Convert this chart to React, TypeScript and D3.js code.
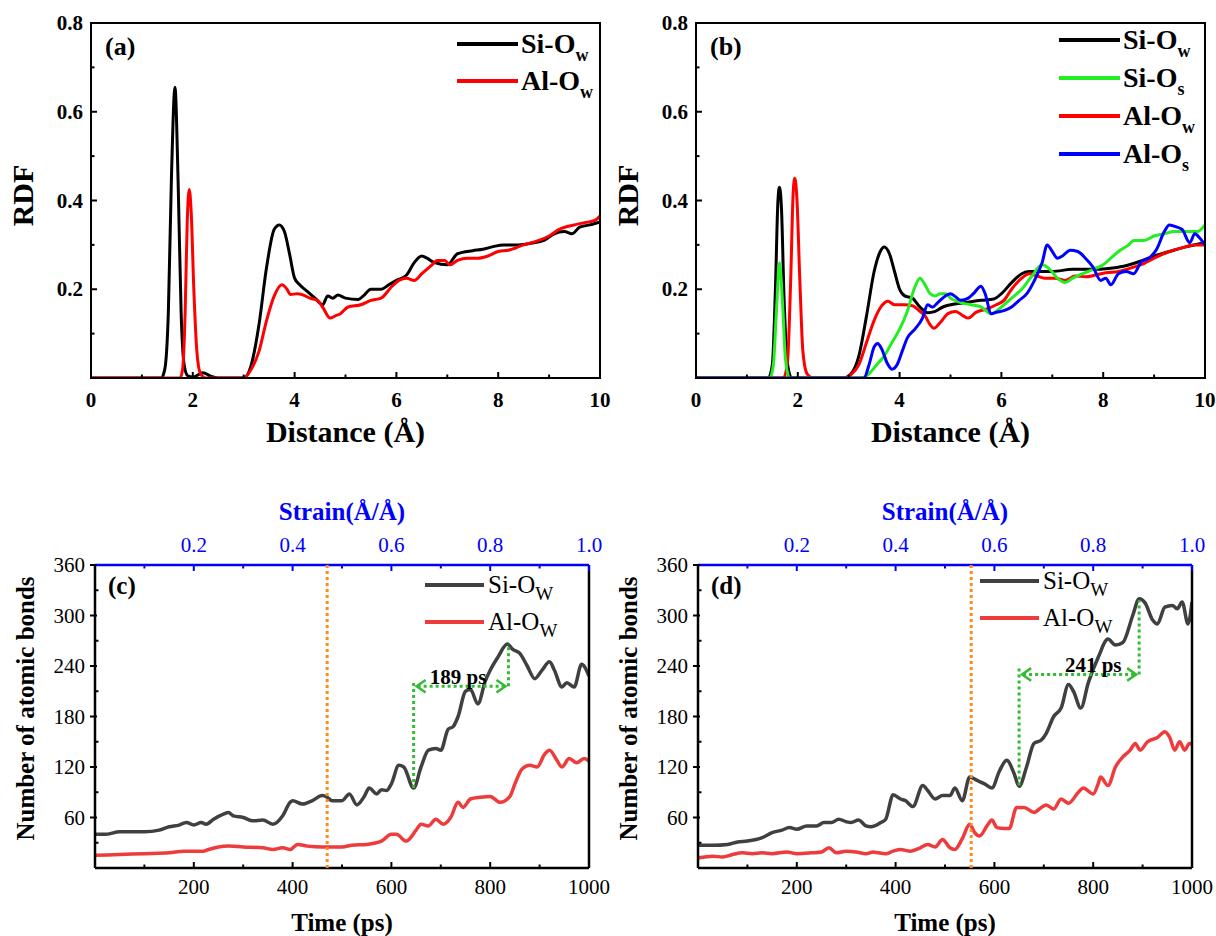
import React from 'react';
import * as d3 from 'd3';

const FONT = '"Liberation Serif", "Times New Roman", Times, "DejaVu Serif", serif';

type P = [number, number];

// ---------- Panel (a) RDF ----------
const aSiOw: P[] = [[0,0],[1.38,0],[1.45,0.02],[1.52,0.15],[1.58,0.45],[1.65,0.655],[1.71,0.45],[1.77,0.15],[1.83,0.03],[1.9,0.005],[2.0,0.002],[2.2,0.012],[2.35,0.004],[2.5,0],[3.0,0],[3.15,0.03],[3.3,0.12],[3.45,0.25],[3.6,0.335],[3.7,0.345],[3.8,0.33],[3.9,0.28],[4.0,0.225],[4.1,0.21],[4.25,0.195],[4.4,0.18],[4.55,0.165],[4.65,0.185],[4.75,0.18],[4.85,0.187],[5.0,0.18],[5.25,0.177],[5.35,0.185],[5.5,0.2],[5.7,0.2],[5.85,0.21],[6.0,0.22],[6.2,0.232],[6.35,0.26],[6.5,0.275],[6.6,0.27],[6.75,0.26],[7.0,0.255],[7.2,0.28],[7.5,0.287],[7.7,0.29],[7.9,0.296],[8.1,0.3],[8.4,0.3],[8.7,0.305],[8.9,0.31],[9.1,0.325],[9.3,0.33],[9.45,0.325],[9.6,0.34],[9.8,0.345],[10,0.352]];
const aAlOw: P[] = [[0,0],[1.75,0],[1.8,0.02],[1.85,0.15],[1.89,0.35],[1.93,0.425],[1.97,0.37],[2.02,0.2],[2.08,0.06],[2.15,0.01],[2.25,0],[3.0,0],[3.15,0.02],[3.3,0.06],[3.45,0.13],[3.6,0.185],[3.75,0.21],[3.85,0.2],[3.92,0.188],[4.05,0.19],[4.15,0.188],[4.3,0.18],[4.45,0.175],[4.55,0.16],[4.7,0.135],[4.8,0.14],[4.9,0.145],[5.05,0.16],[5.3,0.165],[5.5,0.175],[5.7,0.18],[5.9,0.205],[6.05,0.22],[6.2,0.225],[6.35,0.22],[6.5,0.235],[6.7,0.255],[6.8,0.265],[6.95,0.265],[7.05,0.255],[7.2,0.265],[7.4,0.27],[7.6,0.27],[7.8,0.275],[8.0,0.285],[8.2,0.288],[8.5,0.3],[8.8,0.31],[9.0,0.32],[9.2,0.335],[9.5,0.345],[9.7,0.35],[9.9,0.355],[10,0.365]];

// ---------- Panel (b) RDF ----------
const bSiOw: P[] = [[0,0],[1.42,0],[1.5,0.03],[1.56,0.2],[1.61,0.4],[1.64,0.43],[1.68,0.38],[1.73,0.18],[1.8,0.03],[1.88,0],[2.9,0],[3.05,0.01],[3.2,0.05],[3.35,0.14],[3.5,0.24],[3.62,0.285],[3.7,0.295],[3.8,0.28],[3.9,0.24],[4.0,0.2],[4.1,0.185],[4.25,0.18],[4.4,0.16],[4.55,0.147],[4.7,0.15],[4.85,0.16],[5.0,0.165],[5.3,0.17],[5.6,0.175],[5.85,0.178],[6.0,0.19],[6.2,0.215],[6.4,0.235],[6.55,0.24],[7.0,0.24],[7.4,0.245],[7.8,0.245],[8.1,0.247],[8.4,0.252],[8.7,0.262],[9.0,0.275],[9.3,0.285],[9.6,0.295],[10,0.305]];
const bSiOs: P[] = [[0,0],[1.45,0],[1.52,0.03],[1.58,0.15],[1.64,0.26],[1.7,0.17],[1.76,0.04],[1.84,0],[3.25,0],[3.4,0.01],[3.55,0.03],[3.7,0.05],[3.85,0.08],[4.0,0.11],[4.15,0.15],[4.3,0.205],[4.4,0.225],[4.5,0.21],[4.6,0.19],[4.7,0.185],[4.8,0.19],[4.9,0.19],[5.0,0.18],[5.2,0.17],[5.4,0.165],[5.6,0.16],[5.8,0.145],[6.0,0.16],[6.2,0.18],[6.4,0.2],[6.6,0.23],[6.8,0.255],[6.95,0.245],[7.1,0.225],[7.25,0.215],[7.4,0.225],[7.6,0.235],[7.8,0.245],[8.0,0.255],[8.15,0.27],[8.3,0.285],[8.5,0.3],[8.6,0.31],[8.8,0.31],[9.0,0.32],[9.2,0.325],[9.4,0.33],[9.7,0.33],[9.85,0.33],[10,0.345]];
const bAlOw: P[] = [[0,0],[1.72,0],[1.8,0.04],[1.86,0.22],[1.91,0.42],[1.94,0.45],[1.98,0.41],[2.04,0.22],[2.1,0.06],[2.18,0.01],[2.3,0],[2.9,0],[3.05,0.008],[3.2,0.03],[3.35,0.08],[3.5,0.13],[3.65,0.163],[3.77,0.173],[3.9,0.165],[4.1,0.165],[4.25,0.163],[4.4,0.15],[4.5,0.14],[4.6,0.12],[4.67,0.112],[4.8,0.125],[4.95,0.145],[5.1,0.15],[5.25,0.14],[5.35,0.135],[5.5,0.148],[5.7,0.155],[5.9,0.165],[6.05,0.175],[6.2,0.2],[6.4,0.225],[6.55,0.235],[6.7,0.23],[6.85,0.225],[7.05,0.225],[7.25,0.22],[7.45,0.23],[7.65,0.228],[7.85,0.232],[8.05,0.237],[8.3,0.24],[8.6,0.25],[8.8,0.258],[9.0,0.27],[9.3,0.285],[9.6,0.295],[9.8,0.3],[10,0.3]];
const bAlOs: P[] = [[0,0],[3.3,0],[3.4,0.03],[3.5,0.07],[3.57,0.078],[3.65,0.065],[3.75,0.035],[3.85,0.02],[3.95,0.03],[4.05,0.06],[4.15,0.09],[4.3,0.11],[4.45,0.135],[4.55,0.165],[4.65,0.16],[4.75,0.17],[4.9,0.185],[5.0,0.19],[5.1,0.183],[5.2,0.175],[5.35,0.18],[5.45,0.19],[5.6,0.207],[5.68,0.19],[5.8,0.145],[5.9,0.148],[6.05,0.152],[6.2,0.16],[6.35,0.175],[6.5,0.19],[6.65,0.22],[6.8,0.26],[6.9,0.3],[7.0,0.285],[7.1,0.27],[7.2,0.275],[7.35,0.288],[7.5,0.285],[7.65,0.27],[7.8,0.25],[7.95,0.22],[8.05,0.225],[8.15,0.21],[8.3,0.235],[8.45,0.24],[8.6,0.235],[8.75,0.262],[8.9,0.27],[9.05,0.29],[9.2,0.33],[9.3,0.345],[9.45,0.34],[9.55,0.335],[9.7,0.305],[9.8,0.325],[9.9,0.315],[10,0.3]];

// ---------- Panel (c) bonds ----------
const cSiOw: P[] = [[0,40],[20,40],[50,43],[100,43],[130,45],[150,49],[170,51],[185,54],[200,51],[215,54],[225,52],[240,58],[260,64],[270,66],[280,62],[300,60],[320,56],[340,57],[360,52],[380,62],[395,78],[400,80],[420,76],[440,80],[460,86],[470,84],[480,80],[500,80],[515,88],[530,75],[545,85],[555,95],[570,88],[580,93],[590,92],[600,100],[615,122],[625,120],[645,95],[660,120],[675,140],[690,142],[700,140],[715,165],[725,168],[735,180],[750,210],[760,212],[775,195],[790,222],[800,235],[815,250],[835,266],[845,260],[860,255],[875,240],[890,225],[905,235],[920,245],[930,235],[945,215],[955,220],[970,215],[985,242],[1000,228]];
const cAlOw: P[] = [[0,15],[50,16],[100,17],[150,18],[180,20],[220,20],[230,22],[250,25],[270,26],[300,25],[340,24],[360,22],[380,24],[395,22],[410,28],[430,26],[460,25],[500,25],[520,27],[550,28],[580,32],[600,40],[610,40],[630,32],[650,45],[660,52],[675,50],[690,58],[705,52],[720,60],[735,78],[745,72],[760,82],[780,84],[800,85],[820,78],[840,85],[850,100],[865,118],[880,122],[895,120],[910,135],[920,140],[935,128],[945,120],[960,130],[975,125],[990,130],[1000,127]];

// ---------- Panel (d) bonds ----------
const dSiOw: P[] = [[0,27],[30,27],[60,28],[80,31],[100,32],[130,36],[150,42],[170,45],[185,48],[200,46],[220,50],[240,50],[255,54],[270,54],[285,58],[300,55],[310,54],[325,57],[340,50],[350,49],[370,54],[380,58],[395,87],[410,82],[420,80],[435,73],[455,98],[465,92],[480,82],[495,86],[510,86],[520,95],[535,80],[550,108],[565,104],[580,100],[595,95],[610,115],[625,128],[640,112],[650,97],[665,120],[680,148],[695,152],[705,160],[720,180],[735,190],[750,218],[760,210],[775,190],[790,220],[810,250],[830,272],[845,265],[860,268],[880,300],[893,320],[905,315],[920,295],[930,290],[945,310],[960,312],[970,308],[980,316],[992,290],[1000,316]];
const dAlOw: P[] = [[0,12],[30,14],[50,13],[70,16],[90,18],[110,17],[130,18],[150,17],[180,19],[200,17],[230,18],[250,19],[265,24],[280,18],[300,20],[320,19],[340,17],[355,19],[365,18],[380,17],[395,20],[410,22],[430,20],[450,24],[465,28],[480,25],[495,34],[510,24],[520,22],[535,35],[550,52],[560,42],[570,38],[585,50],[595,57],[605,48],[620,47],[630,47],[645,72],[660,72],[680,66],[695,72],[705,75],[720,70],[735,82],[750,77],[770,90],[780,95],[800,88],[810,100],[815,108],[830,98],[845,120],[860,132],[875,140],[885,148],[895,140],[910,150],[930,155],[945,162],[955,155],[965,140],[975,150],[985,140],[995,148],[1000,147]];

// ---------- Ticks ----------
const rdfXTicks = [0, 2, 4, 6, 8, 10];
const rdfXMinor = [1, 3, 5, 7, 9];
const rdfYTicks = [0.2, 0.4, 0.6, 0.8];
const rdfYMinor = [0.1, 0.3, 0.5, 0.7];
const timeTicks = [200, 400, 600, 800, 1000];
const timeMinor = [100, 300, 500, 700, 900];
const bondTicks = [60, 120, 180, 240, 300, 360];
const bondMinor = [30, 90, 150, 210, 270, 330];
const strainTicks = [0.2, 0.4, 0.6, 0.8, 1.0];
const strainMinor = [0.1, 0.3, 0.5, 0.7, 0.9];

// annotations
const cOrange = 470;
const dOrange = 553;
const cGreen = { t0: 645, t1: 837, yLow: 95, yArrow: 216, yLeftTop: 222, yRightTop: 266, label: '189 ps', lx: 735, ly: 227 };
const dGreen = { t0: 650, t1: 893, yLow: 98, yArrow: 230, yLeftTop: 237, yRightTop: 318, label: '241 ps', lx: 800, ly: 241 };

type Series = { name: string; sub: string; color: string; data: P[] };

const txt = (size: number, bold: boolean, fill = '#000') => ({
  fontFamily: FONT,
  fontSize: size + 'px',
  fontWeight: bold ? 'bold' : 'normal',
  fill,
});

function Sub({ main, sub, x, y, size, subSize, bold, fill = '#000' }: any) {
  return (
    <text x={x} y={y} style={txt(size, bold, fill)}>
      {main}
      <tspan style={{ fontSize: subSize + 'px' }} dy={size * 0.28}>{sub}</tspan>
    </text>
  );
}

function RdfPanel({ id, left, right, top, bottom, draw, legend, tag, legendX, legendYs }: any) {
  const x = d3.scaleLinear().domain([0, 10]).range([left, right]);
  const y = d3.scaleLinear().domain([0, 0.8]).range([bottom, top]);
  const line = d3.line<P>().x(d => x(d[0])).y(d => y(d[1])).curve(d3.curveMonotoneX);
  const cx = (left + right) / 2;
  return (
    <g>
      <defs>
        <clipPath id={id}>
          <rect x={left} y={top} width={right - left} height={bottom - top} />
        </clipPath>
      </defs>
      <g clipPath={`url(#${id})`}>
        {draw.map((s: Series) => (
          <path key={s.name + s.sub} d={line(s.data) || ''} fill="none" stroke={s.color} strokeWidth={3} strokeLinejoin="round" />
        ))}
      </g>
      <rect x={left} y={top} width={right - left} height={bottom - top} fill="none" stroke="#000" strokeWidth={2} />
      {rdfXTicks.map(t => (
        <g key={'xt' + t}>
          <line x1={x(t)} x2={x(t)} y1={bottom} y2={bottom - 6} stroke="#000" strokeWidth={2} />
          <text x={x(t)} y={bottom + 29} textAnchor="middle" style={txt(21, true)}>{t}</text>
        </g>
      ))}
      {rdfXMinor.map(t => (
        <line key={'xm' + t} x1={x(t)} x2={x(t)} y1={bottom} y2={bottom - 3.5} stroke="#000" strokeWidth={2} />
      ))}
      {rdfYTicks.map(t => (
        <g key={'yt' + t}>
          <line x1={left} x2={left + 6} y1={y(t)} y2={y(t)} stroke="#000" strokeWidth={2} />
          <text x={left - 8} y={y(t) + 7} textAnchor="end" style={txt(21, true)}>{t.toFixed(1)}</text>
        </g>
      ))}
      {rdfYMinor.map(t => (
        <line key={'ym' + t} x1={left} x2={left + 3.5} y1={y(t)} y2={y(t)} stroke="#000" strokeWidth={2} />
      ))}
      <text x={cx} y={bottom + 64} textAnchor="middle" style={txt(30, true)}>Distance (Å)</text>
      <text transform={`translate(${left - 58},${(top + bottom) / 2 - 5}) rotate(-90)`} textAnchor="middle" style={txt(30, true)}>RDF</text>
      <text x={left + 14} y={top + 32} style={txt(26, true)}>{tag}</text>
      {legend.map((s: Series, i: number) => (
        <g key={'lg' + i}>
          <line x1={legendX} x2={legendX + 61} y1={legendYs[i]} y2={legendYs[i]} stroke={s.color} strokeWidth={4} />
          <Sub main={s.name} sub={s.sub} x={legendX + 64} y={legendYs[i] + 9} size={28} subSize={18} bold />
        </g>
      ))}
    </g>
  );
}

function Arrowhead({ x, y, dir, color }: any) {
  const s = 9;
  return (
    <polyline points={`${x - dir * s},${y - s * 0.7} ${x},${y} ${x - dir * s},${y + s * 0.7}`} fill="none" stroke={color} strokeWidth={2.5} />
  );
}

function BondPanel({ id, left, right, top, bottom, series, tag, legendX, legendYs, orange, green }: any) {
  const x = d3.scaleLinear().domain([0, 1000]).range([left, right]);
  const xs = d3.scaleLinear().domain([0, 1]).range([left, right]);
  const y = d3.scaleLinear().domain([0, 360]).range([bottom, top]);
  const line = d3.line<P>().x(d => x(d[0])).y(d => y(d[1])).curve(d3.curveMonotoneX);
  const cx = (left + right) / 2;
  const G = '#33bb33';
  const gx0 = x(green.t0), gx1 = x(green.t1), gy = y(green.yArrow);
  return (
    <g>
      <defs>
        <clipPath id={id}>
          <rect x={left} y={top} width={right - left} height={bottom - top} />
        </clipPath>
      </defs>
      <g clipPath={`url(#${id})`}>
        {series.map((s: Series) => (
          <path key={s.name} d={line(s.data) || ''} fill="none" stroke={s.color} strokeWidth={3.5} strokeLinejoin="round" />
        ))}
      </g>
      <line x1={left} x2={left} y1={top} y2={bottom} stroke="#000" strokeWidth={2.5} />
      <line x1={left} x2={right} y1={bottom} y2={bottom} stroke="#000" strokeWidth={2.5} />
      <line x1={right} x2={right} y1={top} y2={bottom} stroke="#000" strokeWidth={2.5} />
      <line x1={left} x2={right} y1={top} y2={top} stroke="#0000ff" strokeWidth={2.5} />
      <line x1={x(orange)} x2={x(orange)} y1={top} y2={bottom} stroke="#ff8c1a" strokeWidth={3} strokeDasharray="3,3" />
      <line x1={gx0} x2={gx0} y1={y(green.yLow)} y2={y(green.yLeftTop)} stroke={G} strokeWidth={3} strokeDasharray="3,3" />
      <line x1={gx1} x2={gx1} y1={gy} y2={y(green.yRightTop)} stroke={G} strokeWidth={3} strokeDasharray="3,3" />
      <line x1={gx0 + 4} x2={gx1 - 4} y1={gy} y2={gy} stroke={G} strokeWidth={3} strokeDasharray="3,3" />
      <Arrowhead x={gx0 + 3} y={gy} dir={-1} color={G} />
      <Arrowhead x={gx1 - 3} y={gy} dir={1} color={G} />
      <text x={x(green.lx)} y={y(green.ly) + 7} textAnchor="middle" style={txt(21, true)}>{green.label}</text>
      {timeTicks.map(t => (
        <g key={'xt' + t}>
          <line x1={x(t)} x2={x(t)} y1={bottom} y2={bottom - 6} stroke="#000" strokeWidth={2} />
          <text x={x(t)} y={bottom + 26} textAnchor="middle" style={txt(21, false)}>{t}</text>
        </g>
      ))}
      {timeMinor.map(t => (
        <line key={'xm' + t} x1={x(t)} x2={x(t)} y1={bottom} y2={bottom - 3.5} stroke="#000" strokeWidth={2} />
      ))}
      {strainTicks.map(t => (
        <g key={'st' + t}>
          <line x1={xs(t)} x2={xs(t)} y1={top} y2={top + 6} stroke="#0000ff" strokeWidth={2} />
          <text x={xs(t)} y={top - 13} textAnchor="middle" style={txt(21, false, '#0000ff')}>{t.toFixed(1)}</text>
        </g>
      ))}
      {strainMinor.map(t => (
        <line key={'sm' + t} x1={xs(t)} x2={xs(t)} y1={top} y2={top + 3.5} stroke="#0000ff" strokeWidth={2} />
      ))}
      {bondTicks.map(t => (
        <g key={'yt' + t}>
          <line x1={left - 5} x2={left + 2} y1={y(t)} y2={y(t)} stroke="#000" strokeWidth={2} />
          <text x={left - 10} y={y(t) + 7} textAnchor="end" style={txt(21, false)}>{t}</text>
        </g>
      ))}
      {bondMinor.map(t => (
        <line key={'ym' + t} x1={left} x2={left + 3.5} y1={y(t)} y2={y(t)} stroke="#000" strokeWidth={2} />
      ))}
      <text x={cx} y={bottom + 63} textAnchor="middle" style={txt(25, true)}>Time (ps)</text>
      <text x={cx} y={top - 45} textAnchor="middle" style={txt(25, true, '#0000ff')}>Strain(Å/Å)</text>
      <text transform={`translate(${left - 61},${(top + bottom) / 2 - 8}) rotate(-90)`} textAnchor="middle" style={txt(25, true)}>Number of atomic bonds</text>
      <text x={left + 13} y={top + 29} style={txt(25, true)}>{tag}</text>
      {series.map((s: Series, i: number) => (
        <g key={'lg' + i}>
          <line x1={legendX} x2={legendX + 59} y1={legendYs[i]} y2={legendYs[i]} stroke={s.color} strokeWidth={4} />
          <Sub main={s.name} sub={s.sub} x={legendX + 63} y={legendYs[i] + 8} size={25} subSize={19} />
        </g>
      ))}
    </g>
  );
}

export default function App() {
  const aSeries: Series[] = [
    { name: 'Si-O', sub: 'w', color: '#000000', data: aSiOw },
    { name: 'Al-O', sub: 'w', color: '#ff0000', data: aAlOw },
  ];
  const bSeries: Series[] = [
    { name: 'Si-O', sub: 'w', color: '#000000', data: bSiOw },
    { name: 'Si-O', sub: 's', color: '#22ee22', data: bSiOs },
    { name: 'Al-O', sub: 'w', color: '#ff0000', data: bAlOw },
    { name: 'Al-O', sub: 's', color: '#0000ff', data: bAlOs },
  ];
  const bDraw = [bSeries[0], bSeries[2], bSeries[1], bSeries[3]];
  const cSeries: Series[] = [
    { name: 'Si-O', sub: 'W', color: '#404040', data: cSiOw },
    { name: 'Al-O', sub: 'W', color: '#ee3b3b', data: cAlOw },
  ];
  const dSeries: Series[] = [
    { name: 'Si-O', sub: 'W', color: '#404040', data: dSiOw },
    { name: 'Al-O', sub: 'W', color: '#ee3b3b', data: dAlOw },
  ];
  return (
    <svg width={1216} height={936} style={{ position: 'absolute', left: 0, top: 0, background: '#fff', fontFamily: FONT }}>
      <rect width={1216} height={936} fill="#fff" />
      <RdfPanel id="ca" left={91} right={600} top={23} bottom={378} draw={aSeries} legend={aSeries} tag="(a)" legendX={457} legendYs={[44, 81]} />
      <RdfPanel id="cb" left={696} right={1205} top={23} bottom={378} draw={bDraw} legend={bSeries} tag="(b)" legendX={1059} legendYs={[40, 78, 116, 154]} />
      <BondPanel id="cc" left={95} right={589} top={565} bottom={868} series={cSeries} tag="(c)" legendX={425} legendYs={[585, 622]} orange={cOrange} green={cGreen} />
      <BondPanel id="cd" left={698} right={1192} top={565} bottom={868} series={dSeries} tag="(d)" legendX={980} legendYs={[581, 618]} orange={dOrange} green={dGreen} />
    </svg>
  );
}
